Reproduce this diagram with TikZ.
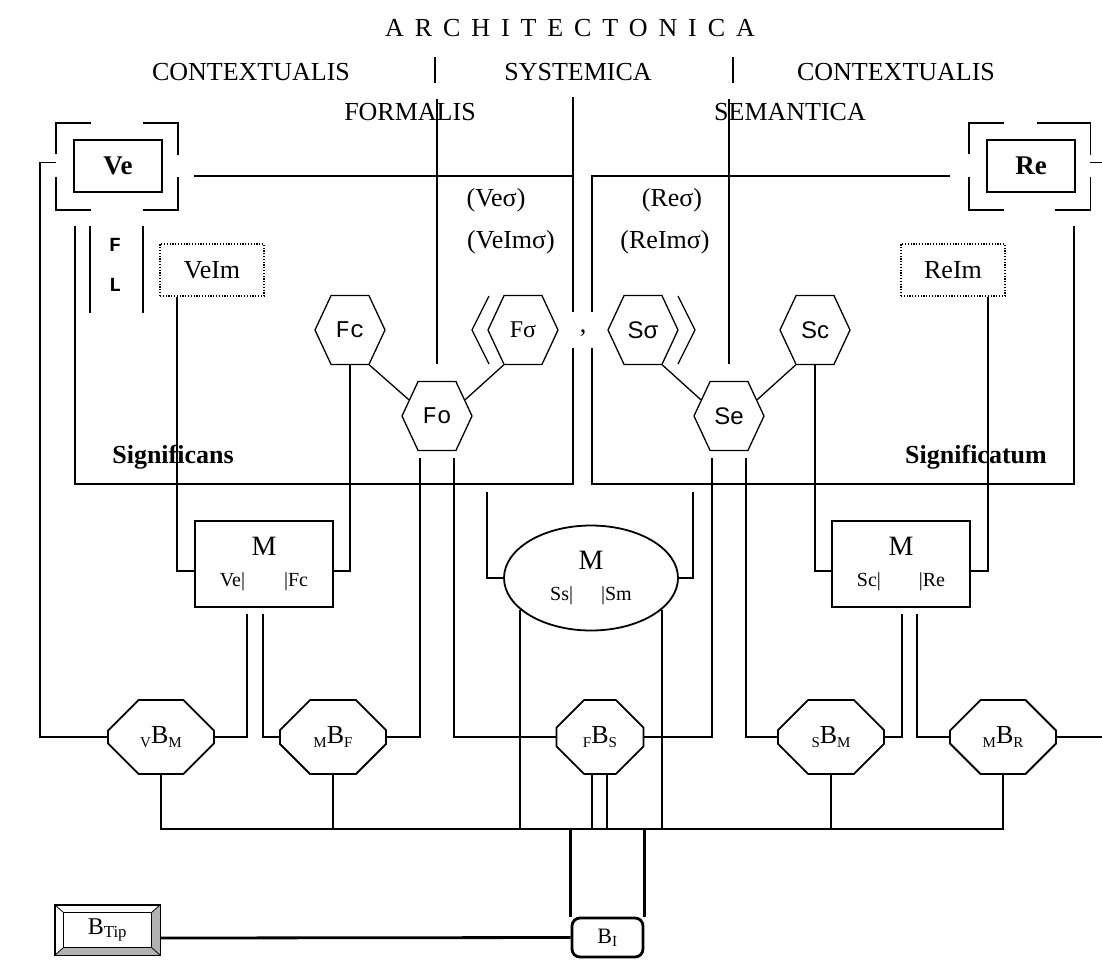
\documentclass[tikz,border=0pt]{standalone}
\usepackage{fontspec}
\setmainfont{Liberation Serif}
\newfontfamily\monofont{Liberation Mono}
\newfontfamily\sansfont{Liberation Sans}
\usetikzlibrary{shapes.geometric,shapes.misc,shapes.symbols,calc}
\newcommand{\fsz}[1]{\fontsize{#1}{#1}\selectfont}
\newcommand{\bsub}[2]{\raisebox{-4pt}{\fsz{15}#1}B\raisebox{-4pt}{\fsz{15}#2}}
\newcommand{\corners}[1]{%
  \draw ([yshift=-31pt]#1.north west) -- (#1.north west) -- ([xshift=35pt]#1.north west);
  \draw ([xshift=-35pt]#1.north east) -- (#1.north east) -- ([yshift=-32pt]#1.north east);
  \draw ([yshift=33pt]#1.south west) -- (#1.south west) -- ([xshift=35pt]#1.south west);
  \draw ([xshift=-35pt]#1.south east) -- (#1.south east) -- ([yshift=33pt]#1.south east);}
\tikzset{
  head/.style={font=\fsz{26}},
  frame/.style={draw,minimum width=88pt,minimum height=52pt,font=\fsz{27}\bfseries},
  outer/.style={minimum width=120pt,minimum height=85pt,inner sep=0pt},
  imbox/.style={draw,line width=1.2pt,dash pattern=on 1.2pt off 1.6pt,minimum width=104pt,
                minimum height=52pt,font=\fsz{26}},
  hexa/.style={draw,line width=1.3pt,signal,signal to=west and east,signal pointer angle=130,
               minimum width=70pt,minimum height=69pt,inner sep=0pt,font=\fsz{24}},
  mbox/.style={draw,minimum width=138pt,minimum height=86pt,align=center,font=\fsz{28}},
  octa/.style={draw,chamfered rectangle,chamfered rectangle xsep=20pt,chamfered rectangle ysep=20pt,
               minimum width=106pt,minimum height=74pt,inner sep=0pt,font=\fsz{26}},
  fl/.style={font=\fsz{20}\monofont\bfseries},
  heavy/.style={line width=2.8pt}
}
\begin{document}
\begin{tikzpicture}[x=1pt,y=-1pt,line width=1.8pt,every node/.style={font=\fsz{26}}]
\useasboundingbox (0,0) rectangle (1102,959);

% headings
\node[head] (arch) at (570,28) {\addfontfeature{LetterSpace=42}ARCHITECTONICA};
\node[head] (ctxl) at (251,72) {CONTEXTUALIS};
\node[head] (sys) at (578,72) {SYSTEMICA};
\node[head] (ctxr) at (896,72) {CONTEXTUALIS};
\node[head] (form) at (410,112) {FORMALIS};
\node[head] (sem) at (790,112) {SEMANTICA};
\draw (435,57) -- (435,83);
\draw (733,57) -- (733,83);

% Ve / Re
\node[frame] (ve) at (118,166) {Ve};
\node[outer] (veo) at (117,166.5) {};
\corners{veo}
\node[frame] (re) at (1031,166) {Re};
\node[outer] (reo) at (1029.5,166.5) {};
\corners{reo}
\draw ([xshift=-35pt]reo.north east) -- ([xshift=-53pt]reo.north east);
\coordinate (edge) at (1102,0);
\coordinate (bus) at (0,829);

% significans / significatum
\draw (194,176) -- (573,176);
\draw (573,97) -- (573,312);
\draw (573,348) -- (573,484) -- (75,484) -- (75,226);
\draw (950,176) -- (592,176) -- (592,312);
\draw (592,348) -- (592,484) -- (1074,484) -- (1074,226);
\draw (90,226) -- (90,313);
\draw (143,226) -- (143,313);
\node[fl] (fl1) at (115,245) {F};
\node[fl] (fl2) at (115,285) {L};
\node[font=\fsz{26}\bfseries] (sgs) at (173,457) {Significans};
\node[font=\fsz{26}\bfseries] (sgt) at (976,457) {Significatum};

\node[imbox] (veim) at (212,270) {VeIm};
\node[imbox] (reim) at (953,270) {ReIm};

\node (vesig) at (496,200) {(Veσ)};
\node (veimsig) at (511,242) {(VeImσ)};
\node (resig) at (672,200) {(Reσ)};
\node (reimsig) at (665,242) {(ReImσ)};

% hexagons
\node[hexa] (fc) at (350,330) {\monofont Fc};
\node[hexa] (fsig) at (523,330) {Fσ};
\node[hexa] (ssig) at (643,330) {\sansfont Sσ};
\node[hexa] (sc) at (815,330) {\sansfont Sc};
\node[hexa] (fo) at (437,416) {\monofont Fo};
\node[hexa] (se) at (729,416) {\sansfont Se};
\node (comma) at (583,333) {,};
\draw[line width=1.3pt] ($(fsig.center)+(-34,-34)$) -- ++(-17,34) -- ++(17,34);
\draw[line width=1.3pt] ($(ssig.center)+(35,-34)$) -- ++(17,34) -- ++(-17,34);
\draw[line width=1.3pt] (fc.-61) -- (fo.150);
\draw[line width=1.3pt] (fsig.-119) -- (fo.30);
\draw[line width=1.3pt] (ssig.-61) -- (se.150);
\draw[line width=1.3pt] (sc.-119) -- (se.30);
\draw (fo.north |- form.north) -- ([yshift=17pt]fo.north);
\draw (se.north |- sem.north) -- ([yshift=17pt]se.north);

% M boxes
\node[mbox] (ml) at (264,564) {M\\[3pt]{\fsz{20}Ve|\hspace{39pt}|Fc}};
\node[mbox] (mr) at (901,564) {M\\[3pt]{\fsz{20}Sc|\hspace{38pt}|Re}};
\node[draw,ellipse,minimum width=174pt,minimum height=105pt,align=center,font=\fsz{28}] (ms) at (591,578)
  {M\\[3pt]{\fsz{20}Ss|\hspace{28pt}|Sm}};
\draw ([xshift=-35pt]veim.south) |- ([yshift=-7pt]ml.west);
\draw (fc.south) |- ([yshift=-7pt]ml.east);
\draw (sc.south) |- ([yshift=-7pt]mr.west);
\draw ([xshift=35pt]reim.south) |- ([yshift=-7pt]mr.east);
\coordinate (sysl) at (487,492);
\coordinate (sysr) at (693,492);
\draw (sysl) |- (ms.west);
\draw (sysr) |- (ms.east);

% octagons
\node[octa] (vbm) at (161,737) {\bsub{V}{M}};
\node[octa] (mbf) at (333,737) {\bsub{M}{F}};
\node[octa,minimum width=87pt] (fbs) at (600,737) {\bsub{F}{S}};
\node[octa] (sbm) at (831,737) {\bsub{S}{M}};
\node[octa] (mbr) at (1003,737) {\bsub{M}{R}};

\draw ([yshift=4pt]veo.west) -- ++(-16,0) |- (vbm.west);
\draw ([yshift=4pt]reo.east) -- ([yshift=4pt]reo.east -| edge);
\draw (mbr.east) -- (mbr.east -| edge);
\draw ([shift={(-17pt,-6pt)}]ml.south) |- (vbm.east);
\draw ([shift={(-1pt,-6pt)}]ml.south) |- (mbf.west);
\draw ([shift={(1pt,-6pt)}]mr.south) |- (sbm.east);
\draw ([shift={(16pt,-6pt)}]mr.south) |- (mbr.west);
\draw ([shift={(-17pt,-7pt)}]fo.south) |- (mbf.east);
\draw ([shift={(17pt,-7pt)}]fo.south) |- (fbs.west);
\draw ([shift={(-17pt,-7pt)}]se.south) |- (fbs.east);
\draw ([shift={(17pt,-7pt)}]se.south) |- (sbm.west);

% bus
\coordinate (msl) at (ms.-156);
\coordinate (msr) at (ms.-24);
\coordinate (fbsl) at ([xshift=-8pt]fbs.south);
\coordinate (fbsr) at ([xshift=7pt]fbs.south);
\draw (vbm.south) -- (vbm.south |- bus) -| (mbr.south);
\draw (mbf.south) -- (mbf.south |- bus);
\draw (sbm.south) -- (sbm.south |- bus);
\draw (fbsl) -- (fbsl |- bus);
\draw (fbsr) -- (fbsr |- bus);
\draw (msl) -- (msl |- bus);
\draw (msr) -- (msr |- bus);

% B_I and B_Tip
\node[draw,heavy,rounded corners=8pt,minimum width=71pt,minimum height=39pt,font=\fsz{22}] (bi) at (607.5,937.5) {B\textsubscript{I}};
\draw[heavy] (bi.north west) -- (bi.north west |- bus);
\draw[heavy] (bi.north east) -- (bi.north east |- bus);
\node[draw,line width=1pt,minimum width=105pt,minimum height=50pt,font=\fsz{24}] (btip) at (107.5,930) {B\textsubscript{Tip}};
\fill[gray!60] (btip.north east) -- (btip.south east) -- (btip.south west)
  -- ([shift={(9pt,8pt)}]btip.south west) -- ([shift={(-9pt,8pt)}]btip.south east)
  -- ([shift={(-9pt,-8pt)}]btip.north east) -- cycle;
\draw[line width=1pt] ([shift={(9pt,-8pt)}]btip.north west) rectangle ([shift={(-9pt,8pt)}]btip.south east);
\draw[line width=1pt] (btip.north west) rectangle (btip.south east);
\draw[line width=0.8pt] (btip.north west) -- ++(9,8);
\draw[line width=0.8pt] (btip.north east) -- ++(-9,8);
\draw[line width=0.8pt] (btip.south west) -- ++(9,-8);
\draw[line width=0.8pt] (btip.south east) -- ++(-9,-8);
\draw[heavy] ([yshift=-8pt]btip.east) -- (bi.west);
\end{tikzpicture}
\end{document}
